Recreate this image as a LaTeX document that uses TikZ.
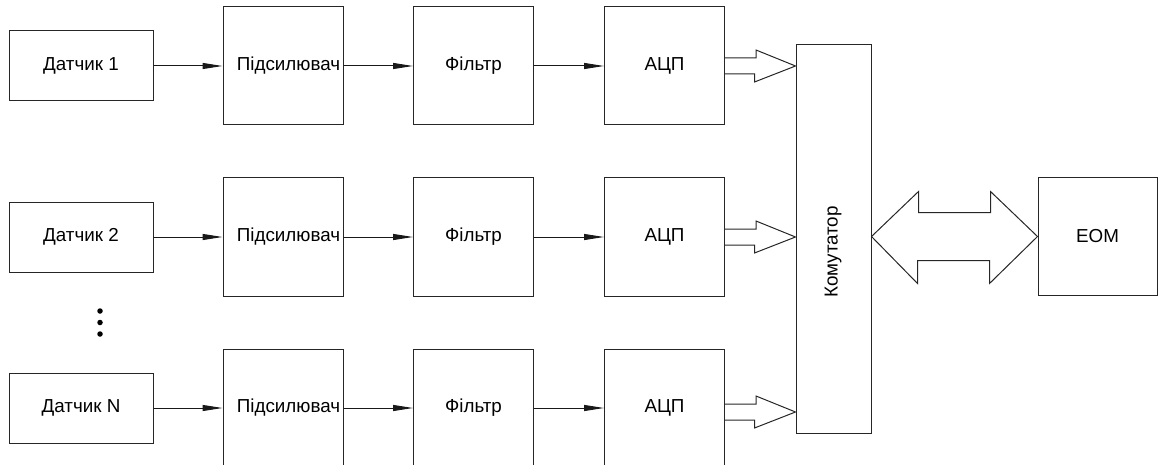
\documentclass[tikz,border=0pt]{standalone}
\usepackage{fontspec}
\setmainfont{Liberation Sans}
\usetikzlibrary{arrows.meta,calc}
\begin{document}
\begin{tikzpicture}[x=1pt,y=-1pt,
  every node/.style={font=\fontsize{18.8}{22}\selectfont},
  blk/.style={draw=black!85,line width=1pt,inner sep=0pt,fill=white},
  sens/.style={blk,minimum width=144pt,minimum height=70pt},
  sq/.style={blk,minimum width=120pt,minimum height=118pt},
  sig/.style={draw=black!90,line width=1pt,-{Triangle[length=20pt,width=6pt]}},
  bus/.style={draw=black!85,line width=1pt,line join=miter},
  dot/.style={fill=black,circle,inner sep=0pt,minimum size=5.5pt}]
\useasboundingbox (0,0) rectangle (1158,465);
% rows: centres 66, 237, 408
\foreach \r/\y/\lab in {1/66/1, 2/237/2, 3/408/N}{
  \node[sens] (s\r) at (81,\y) {Датчик \lab};
  \node[sq] (a\r) at (283,\y) {\hspace*{11pt}Підсилювач};
  \node[sq] (f\r) at (473.5,\y) {Фільтр};
  \node[sq] (c\r) at (664.5,\y) {АЦП};
}
\node[blk,minimum width=75pt,minimum height=388pt] (k) at (833.5,239) {};
\node[rotate=90] (kt) at (833,252) {Комутатор};
\node[blk,minimum width=119pt,minimum height=117pt] (eom) at (1097.5,236.5) {ЕОМ};
\foreach \r in {1,2,3}{
  \draw[sig] (s\r.east) -- (a\r.west);
  \draw[sig] (a\r.east) -- (f\r.west);
  \draw[sig] (f\r.east) -- (c\r.west);
}
% hollow bus arrows ADC -> commutator
\foreach \r/\o in {1/0,2/0,3/4}{
  \draw[bus] ([yshift=-\o pt+8pt]c\r.east) -- ++(31,0) -- ++(0,-8)
    -- ($(k.west |- c\r.east)+(0,\o)$) -- ++(-41,16) -- ++(0,-8)
    -- ([yshift=-\o pt-8pt]c\r.east);
}
% double arrow commutator <-> EOM
\coordinate (lt) at (k.east |- eom.west);
\draw[bus] (lt) -- ++(47,-45) -- ++(0,21) -- ++(72,0) -- ++(0,-21)
  -- (eom.west) -- ++(-48,47) -- ++(0,-23) -- ++(-72,0) -- ++(0,23) -- cycle;
% dots
\node[dot] (d1) at (100,311) {};
\node[dot] (d2) at (100,322.5) {};
\node[dot] (d3) at (100,334) {};
\end{tikzpicture}
\end{document}
